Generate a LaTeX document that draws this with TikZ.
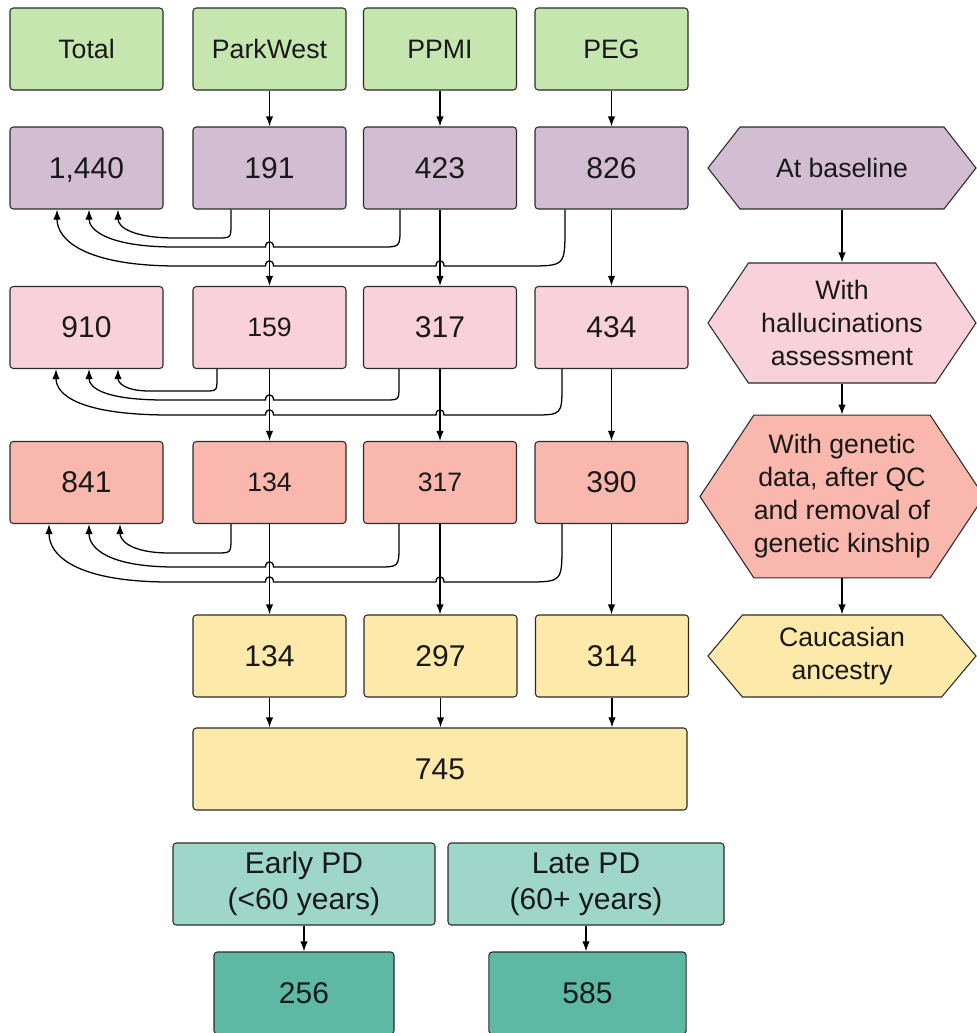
\documentclass[tikz,border=0pt]{standalone}
\usepackage{fontspec}
\setmainfont{Liberation Sans}
\usetikzlibrary{arrows.meta,shapes.symbols,calc}

\definecolor{srcgreen}{HTML}{C6E6B0}
\definecolor{basepurple}{HTML}{D2BDD3}
\definecolor{hallpink}{HTML}{F8D1DC}
\definecolor{genred}{HTML}{F9B7AE}
\definecolor{caucyellow}{HTML}{FDE9A9}
\definecolor{agelight}{HTML}{9ED7CA}
\definecolor{agedark}{HTML}{5DB8A4}
\definecolor{edge}{HTML}{2B2B2B}

\tikzset{
  box/.style={draw=edge, line width=0.8pt, rounded corners=2.5pt, inner sep=0pt,
    minimum width=114.75pt, minimum height=61.5pt, text=black!90,
    font=\fontsize{22.5}{27}\selectfont, align=center},
  lab/.style={font=\fontsize{20}{24}\selectfont},
  small/.style={font=\fontsize{20}{24}\selectfont},
  hexa/.style={draw=edge, line width=0.8pt, shape=signal, signal to=east and west,
    inner sep=0pt, minimum width=201pt, align=center, text=black!90,
    font=\fontsize{20}{24.75}\selectfont},
  arr/.style={-{Latex[length=7.5pt,width=5.5pt]}, line width=0.95pt},
}

\begin{document}
\begin{tikzpicture}[x=0.75pt, y=-0.75pt]
\clip (0,0) rectangle (977,1033);

% cohorts
\node[box, lab, fill=srcgreen] (tot0) at (86.5,49) {Total};
\node[box, lab, fill=srcgreen] (pw0) at (269.5,49) {ParkWest};
\node[box, lab, fill=srcgreen] (pp0) at (440,49) {PPMI};
\node[box, lab, fill=srcgreen] (pg0) at (611.5,49) {PEG};

% at baseline
\node[box, fill=basepurple, text depth=0pt] (tot1) at (86.5,168) {1,440};
\node[box, fill=basepurple] (pw1) at (269.5,168) {191};
\node[box, fill=basepurple] (pp1) at (440,168) {423};
\node[box, fill=basepurple] (pg1) at (611.5,168) {826};

% hallucinations assessment
\node[box, fill=hallpink] (tot2) at (86.5,327.5) {910};
\node[box, small, fill=hallpink] (pw2) at (269.5,327.5) {159};
\node[box, fill=hallpink] (pp2) at (440,327.5) {317};
\node[box, fill=hallpink] (pg2) at (611.5,327.5) {434};

% genetic data
\node[box, fill=genred] (tot3) at (86.5,482.5) {841};
\node[box, small, fill=genred] (pw3) at (269.5,482.5) {134};
\node[box, small, fill=genred] (pp3) at (440,482.5) {317};
\node[box, fill=genred] (pg3) at (611.5,482.5) {390};

% caucasian
\node[box, fill=caucyellow] (pw4) at (269.5,656) {134};
\node[box, fill=caucyellow] (pp4) at (440.5,656) {297};
\node[box, fill=caucyellow] (pg4) at (612,656) {314};
\node[box, fill=caucyellow, minimum width=370.5pt] (all4) at (440,769) {745};

% age groups
\node[box, fill=agelight, minimum width=196.5pt] (early) at (304,884) {Early PD\\(<60 years)};
\node[box, fill=agelight, minimum width=207pt] (late) at (586,884) {Late PD\\(60+ years)};
\node[box, fill=agedark, minimum width=135pt] (n256) at (304,993) {256};
\node[box, fill=agedark, minimum width=148pt] (n585) at (587.5,993) {585};

% steps
\node[hexa, fill=basepurple, minimum height=61.5pt, signal pointer angle=104] (h1) at (842,168) {At baseline};
\node[hexa, fill=hallpink, minimum height=90pt, signal pointer angle=112] (h2) at (842,323) {With\\hallucinations\\assessment};
\node[hexa, fill=genred, minimum height=122pt, signal pointer angle=113] (h3) at (842,496.5) {With genetic\\data, after QC\\and removal of\\genetic kinship};
\node[hexa, fill=caucyellow, minimum height=61.5pt, signal pointer angle=100] (h4) at (842,656) {Caucasian\\ancestry};

\draw[arr] (h1.south) -- (h2.north);
\draw[arr] (h2.south) -- (h3.north);
\draw[arr] (h3.south) -- (h4.north);

\draw[arr] (pw0.south) -- (pw1.north);
\draw[arr] (pp0.south) -- (pp1.north);
\draw[arr] (pg0.south) -- (pg1.north);

\draw[arr] (pw1.south) -- (pw2.north);
\draw[arr] (pp1.south) -- (pp2.north);
\draw[arr] (pg1.south) -- (pg2.north);
\draw[arr] (pw2.south) -- (pw3.north);
\draw[arr] (pp2.south) -- (pp3.north);
\draw[arr] (pg2.south) -- (pg3.north);
\draw[arr] (pw3.south) -- (pw3.south |- pw4.north);
\draw[arr] (pp3.south) -- (pp3.south |- pp4.north);
\draw[arr] (pg3.south) -- (pg3.south |- pg4.north);

\draw[arr] (pw4.south) -- (pw4.south |- all4.north);
\draw[arr] (pp4.south) -- (pp4.south |- all4.north);
\draw[arr] (pg4.south) -- (pg4.south |- all4.north);

\draw[arr] (early.south) -- (n256.north);
\draw[arr] (late.south) -- (late.south |- n585.north);

% sums back into total, baseline
\draw[arr] ($(pw1.south)+(-38.5,0)$) -- (231,224) .. controls (231,238) .. (217,238)
  -- (175,238) .. controls (135,238) and (118,228) .. ($(tot1.south)+(31.5,0)$);
\draw[arr] ($(pp1.south)+(-40,0)$) -- (400,228) .. controls (400,247) .. (381,247)
  -- (273.5,247) .. controls (273.5,240) and (265.5,240) .. (265.5,247)
  -- (175,247) .. controls (108,247) and (89,230) .. ($(tot1.south)+(2.5,0)$);
\draw[arr] ($(pg1.south)+(-46.5,0)$) -- (565,228) .. controls (565,266) .. (527,266)
  -- (444,266) .. controls (444,259) and (436,259) .. (436,266)
  -- (273.5,266) .. controls (273.5,259) and (265.5,259) .. (265.5,266)
  -- (178,266) .. controls (85,266) and (57,240) .. ($(tot1.south)+(-29.5,0)$);

% sums back into total, hallucinations
\draw[arr] ($(pw2.south)+(-52.5,0)$) -- (217,378) .. controls (217,391) .. (204,391)
  -- (150,391) .. controls (125,391) and (118,383) .. ($(tot2.south)+(31.5,0)$);
\draw[arr] ($(pp2.south)+(-41,0)$) -- (399,386) .. controls (399,400) .. (385,400)
  -- (273.5,400) .. controls (273.5,393) and (265.5,393) .. (265.5,400)
  -- (165,400) .. controls (105,400) and (89,388) .. ($(tot2.south)+(2.5,0)$);
\draw[arr] ($(pg2.south)+(-49.5,0)$) -- (562,385) .. controls (562,415) .. (532,415)
  -- (444,415) .. controls (444,408) and (436,408) .. (436,415)
  -- (273.5,415) .. controls (273.5,408) and (265.5,408) .. (265.5,415)
  -- (170,415) .. controls (80,415) and (56,395) .. ($(tot2.south)+(-30.5,0)$);

% sums back into total, genetic data
\draw[arr] ($(pw3.south)+(-38.5,0)$) -- (231,538) .. controls (231,553) .. (216,553)
  -- (170,553) .. controls (130,553) and (120,540) .. ($(tot3.south)+(33.5,0)$);
\draw[arr] ($(pp3.south)+(-41,0)$) -- (399,545) .. controls (399,567) .. (377,567)
  -- (273.5,567) .. controls (273.5,560) and (265.5,560) .. (265.5,567)
  -- (175,567) .. controls (108,567) and (89,548) .. ($(tot3.south)+(2.5,0)$);
\draw[arr] ($(pg3.south)+(-49.5,0)$) -- (562,545) .. controls (562,582) .. (525,582)
  -- (444,582) .. controls (444,575) and (436,575) .. (436,582)
  -- (273.5,582) .. controls (273.5,575) and (265.5,575) .. (265.5,582)
  -- (170,582) .. controls (75,582) and (49,555) .. ($(tot3.south)+(-37.5,0)$);
\end{tikzpicture}
\end{document}
